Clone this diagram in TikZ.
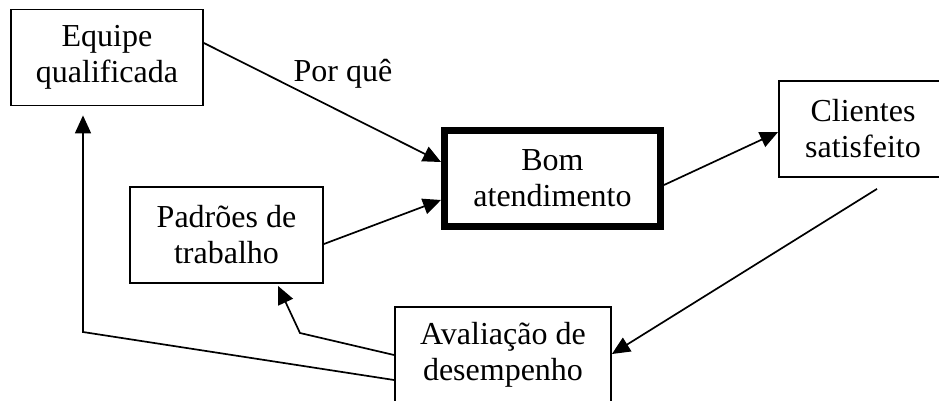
\documentclass[tikz,border=0pt]{standalone}
\usepackage{fontspec}
\setmainfont{Liberation Serif}
\usetikzlibrary{arrows.meta,calc}
\begin{document}
\begin{tikzpicture}[x=1pt,y=-1pt,
  box/.style={draw, line width=1.8pt, minimum width=#1, minimum height=96pt,
    align=center, inner sep=0pt, font=\fontsize{32}{36}\selectfont},
  arr/.style={line width=1.7pt, -{Triangle[length=18pt,width=16pt]}},
  lbl/.style={font=\fontsize{32}{36}\selectfont}
]
\useasboundingbox (0,0) rectangle (939,400);
\clip (0,0) rectangle (939,400);

\node[box=192pt] (eq) at (107,57.5) {Equipe\\qualificada};
\node[box=216pt, line width=7pt] (bom) at (552.5,178.5) {Bom\\atendimento};
\node[box=168pt] (cli) at (863,129) {Clientes\\satisfeito};
\node[box=193pt] (pad) at (226.5,235) {Padrões de\\trabalho};
\node[box=216pt] (ava) at (503,355) {Avaliação de\\desempenho};

\draw[arr] (eq.east |- 0,43) -- (bom.west |- 0,162);
\node[lbl] (pq) at (343,74) {Por quê};
\draw[arr] (pad.east |- 0,244) -- (bom.west |- 0,200);
\draw[arr] (bom.east |- 0,185) -- (cli.west |- 0,132);
\coordinate (cs) at ($(cli.south)+(14,11)$);
\draw[arr] (cs) -- (ava.east |- 0,354);
\draw[arr] (ava.west |- 0,355) -- (300,333) -- ($(pad.south -| 278,0)+(0,2)$);
\draw[arr] (ava.west |- 0,380) -- (83,332) -- ($(eq.south -| 83,0)+(0,9)$);
\end{tikzpicture}
\end{document}
